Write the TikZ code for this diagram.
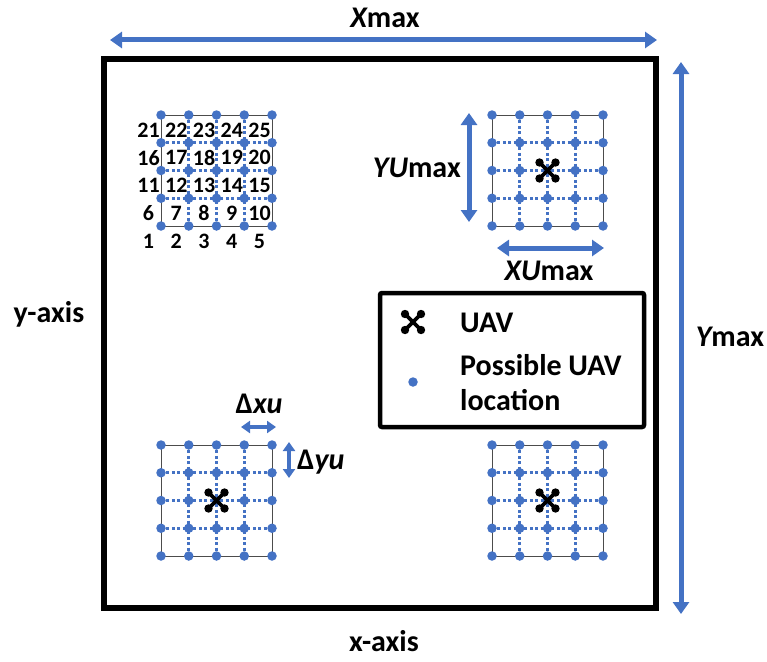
\documentclass[tikz,border=0pt]{standalone}
\usepackage{fontspec}
\setmainfont{Carlito}
\usetikzlibrary{arrows.meta}
\definecolor{uavblue}{HTML}{4472C4}

\tikzset{
  lbl/.style={font=\fontsize{30}{36}\selectfont\bfseries, inner sep=0pt},
  num/.style={font=\fontsize{22}{24}\selectfont\bfseries, inner sep=0pt},
  loc/.style={circle, fill=uavblue, inner sep=0pt, minimum size=9.5pt},
  gridline/.style={uavblue, line width=2.6pt, dash pattern=on 3pt off 2.4pt},
  bigarrow/.style={uavblue, line width=5pt,
    {Triangle[width=16pt,length=12pt]}-{Triangle[width=16pt,length=12pt]}},
  smallarrow/.style={uavblue, line width=3.5pt,
    {Triangle[width=12pt,length=9pt]}-{Triangle[width=12pt,length=9pt]}},
  uav/.pic={
    \draw[line width=3.8pt] (-8,-8) -- (8,8) (-8,8) -- (8,-8);
    \foreach \p in {(-8,-8),(8,8),(-8,8),(8,-8)}
      \fill \p circle (4.2pt);
  }
}

% grid of possible locations: name, left x, top y
\newcommand{\locgrid}[3]{%
  \begin{scope}[shift={(#2,#3)}]
    \foreach \i in {1,2,3} {
      \draw[gridline] (\i*27.75,0) -- (\i*27.75,111);
      \draw[gridline] (0,\i*27.75) -- (111,\i*27.75);
    }
    \draw[black!70, line width=1pt] (0,0) rectangle (111,111);
    \foreach \c in {0,...,4}
      \foreach \r in {0,...,4}
        \node[loc] (#1-\c-\r) at (\c*27.75,111-\r*27.75) {};
  \end{scope}}

\begin{document}
\begin{tikzpicture}[x=1pt,y=-1pt]
\useasboundingbox (0,0) rectangle (767,661);

% area
\draw[line width=6pt] (104,59) rectangle (656,608);

% grids
\locgrid{tl}{161}{115}
\locgrid{tr}{492}{115}
\locgrid{bl}{161}{445}
\locgrid{br}{492}{445}

\pic at (tr-2-2) {uav};
\pic at (bl-2-2) {uav};
\pic at (br-2-2) {uav};

% numbering
\foreach \c in {0,...,4}
  \foreach \r in {0,...,4} {
    \pgfmathtruncatemacro\k{5*\r+\c+1}
    \node[num] (n\k) at (161+\c*27.75-12.5,226-\r*27.75+15) {\k};
  }

% dimensions
\coordinate (xmaxL) at (110,40);
\coordinate (xmaxR) at (657,40);
\coordinate (ymaxT) at (681,62);
\coordinate (ymaxB) at (681,614);
\coordinate (yuT) at (469,113);
\coordinate (yuB) at (469,222);
\coordinate (xuL) at (497,248);
\coordinate (xuR) at (604,248);
\coordinate (dxL) at (241,427);
\coordinate (dxR) at (276,427);
\coordinate (dyT) at (289,442);
\coordinate (dyB) at (289,478);

\draw[bigarrow] (xmaxL) -- (xmaxR);
\draw[bigarrow] (ymaxT) -- (ymaxB);
\draw[bigarrow] (yuT) -- (yuB);
\draw[bigarrow] (xuL) -- (xuR);
\draw[smallarrow] (dxL) -- (dxR);
\draw[smallarrow] (dyT) -- (dyB);

\node[lbl, anchor=base] (xmax) at (385,28) {\itshape X\upshape max};
\node[lbl, anchor=base] (ymax) at (730,346) {\itshape Y\upshape max};
\node[lbl, anchor=base east] (yumax) at (461,177) {\itshape YU\upshape max};
\node[lbl, anchor=base] (xumax) at (549,280) {\itshape XU\upshape max};
\node[lbl, anchor=base] (dxu) at (259,413) {Δ\itshape xu};
\node[lbl, anchor=base west] (dyu) at (297,469) {Δ\itshape yu};
\node[lbl, anchor=base] (yaxis) at (49,322) {y-axis};
\node[lbl, anchor=base] (xaxis) at (384,651) {x-axis};

% legend
\draw[line width=4.5pt, rounded corners=2pt] (380,293) rectangle (644,427);
\pic at (413,322) {uav};
\node[loc] (legdot) at (413,382) {};
\node[lbl, anchor=base west] (leguav) at (460,332) {UAV};
\node[lbl, anchor=base west] (legloc1) at (460,375) {Possible UAV};
\node[lbl, anchor=base west] (legloc2) at (460,410) {location};
\end{tikzpicture}
\end{document}
